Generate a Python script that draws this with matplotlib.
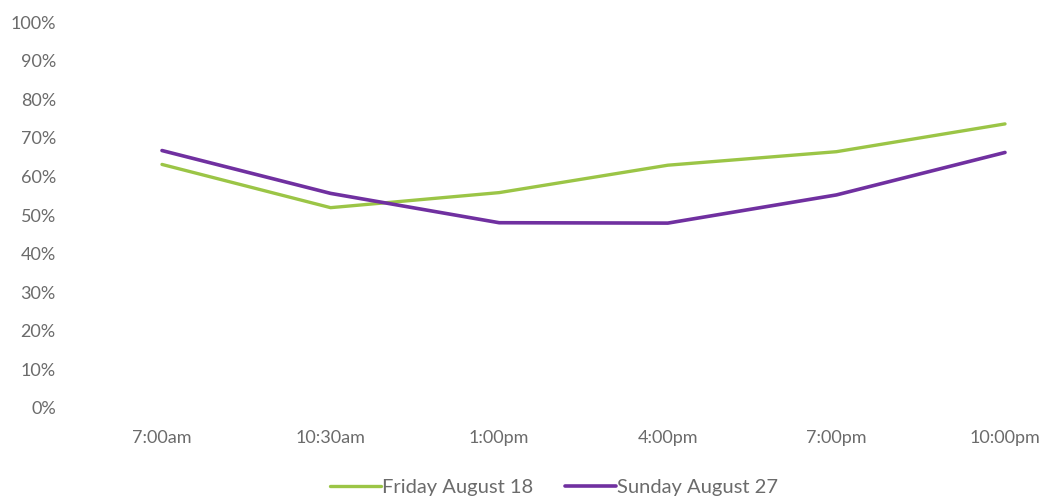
import matplotlib
matplotlib.use("Agg")
import matplotlib.pyplot as plt
from matplotlib.ticker import PercentFormatter

times = ["7:00am", "10:30am", "1:00pm", "4:00pm", "7:00pm", "10:00pm"]
friday = [63.1, 51.9, 55.8, 62.9, 66.4, 73.6]
sunday = [66.7, 55.6, 48.0, 47.9, 55.2, 66.2]

plt.rcParams["font.family"] = ["Lato", "DejaVu Sans"]

fig = plt.figure(figsize=(10.44, 4.96), dpi=100)
ax = fig.add_axes([78 / 1044, 88 / 496, (1044 - 78) / 1044, 386 / 496])

x = list(range(len(times)))
ax.plot(x, friday, color="#9BC546", lw=2.4, label="Friday August 18", solid_capstyle="round")
ax.plot(x, sunday, color="#7030A0", lw=2.6, label="Sunday August 27", solid_capstyle="round")

ax.set_ylim(0, 100)
ax.set_xlim((78 - 162) / 168.6, (1044 - 162) / 168.6)
ax.set_yticks(range(0, 101, 10))
ax.yaxis.set_major_formatter(PercentFormatter(decimals=0))
ax.set_xticks(x)
ax.set_xticklabels(times)
ax.tick_params(length=0, labelsize=13, labelcolor="#6b6b6b")
ax.tick_params(axis="y", pad=16)
ax.tick_params(axis="x", pad=16)
for s in ax.spines.values():
    s.set_visible(False)

fig.legend(loc="center", bbox_to_anchor=(554 / 1044, 1 - 487 / 496), ncol=2,
           frameon=False, fontsize=14.5, handlelength=2.5, handletextpad=0.05,
           columnspacing=1.6, labelcolor="#6b6b6b")

fig.savefig("out.png", dpi=100, facecolor="white")
